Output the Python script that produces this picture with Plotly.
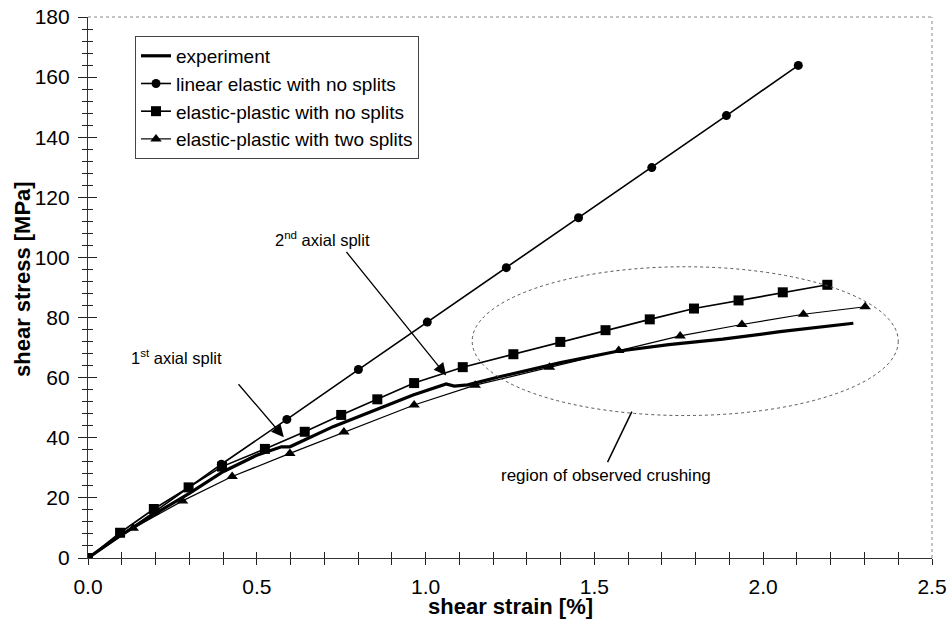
import plotly.graph_objects as go

# ---- data ----
exp_x = [0.0, 0.1, 0.2, 0.3, 0.4, 0.5, 0.573, 0.598, 0.726, 0.85, 0.963, 1.061, 1.085, 1.125, 1.219, 1.4, 1.564, 1.72, 1.88, 2.05, 2.267]
exp_y = [0.0, 7.8, 14.8, 21.5, 28.7, 34.2, 37.0, 37.0, 43.7, 49.3, 54.2, 57.9, 57.2, 57.6, 60.3, 65.0, 68.7, 71.0, 72.8, 75.3, 78.1]

lin_x = [0.0, 0.2, 0.395, 0.589, 0.801, 1.005, 1.239, 1.453, 1.670, 1.891, 2.104]
lin_y = [0.0, 15.6, 31.2, 46.1, 62.7, 78.5, 96.6, 113.2, 129.9, 147.2, 163.9]

epn_x = [0.0, 0.095, 0.195, 0.298, 0.397, 0.524, 0.642, 0.750, 0.857, 0.966, 1.110, 1.260, 1.399, 1.533, 1.664, 1.795, 1.927, 2.058, 2.190]
epn_y = [0.0, 8.4, 16.3, 23.5, 30.4, 36.3, 42.0, 47.6, 52.8, 58.2, 63.5, 67.8, 71.9, 75.8, 79.4, 83.0, 85.7, 88.4, 90.9]

eps_x = [0.0, 0.134, 0.280, 0.427, 0.598, 0.758, 0.966, 1.147, 1.367, 1.572, 1.754, 1.937, 2.119, 2.302]
eps_y = [0.0, 9.9, 19.0, 27.1, 34.8, 41.9, 50.9, 57.5, 63.5, 69.0, 73.9, 77.7, 81.1, 83.6]

series_names = ["experiment", "linear elastic with no splits",
                "elastic-plastic with no splits", "elastic-plastic with two splits"]

x_ticks = [0.0, 0.5, 1.0, 1.5, 2.0, 2.5]
y_ticks = [0, 20, 40, 60, 80, 100, 120, 140, 160, 180]

FONT = "Liberation Sans, Arial, sans-serif"

fig = go.Figure()
fig.add_trace(go.Scatter(x=exp_x, y=exp_y, name=series_names[0], mode="lines",
                         line=dict(color="black", width=3.2)))
fig.add_trace(go.Scatter(x=lin_x, y=lin_y, name=series_names[1], mode="lines+markers",
                         line=dict(color="black", width=1.6),
                         marker=dict(symbol="circle", size=9, color="black")))
fig.add_trace(go.Scatter(x=epn_x, y=epn_y, name=series_names[2], mode="lines+markers",
                         line=dict(color="black", width=1.6),
                         marker=dict(symbol="square", size=10, color="black")))
fig.add_trace(go.Scatter(x=eps_x, y=eps_y, name=series_names[3], mode="lines+markers",
                         line=dict(color="black", width=1.2),
                         marker=dict(symbol="triangle-up", size=10, color="black")))
# invisible trace on overlay axes (for inward half of crossing ticks)
fig.add_trace(go.Scatter(x=[x_ticks[0]], y=[y_ticks[0]], xaxis="x2", yaxis="y2",
                         mode="markers", marker=dict(opacity=0), showlegend=False,
                         hoverinfo="skip"))

axis_common = dict(showgrid=False, zeroline=False, automargin=False)
fig.update_layout(
    width=950, height=625,
    margin=dict(l=88, r=18, t=17, b=67, autoexpand=False),
    paper_bgcolor="white", plot_bgcolor="white",
    font=dict(family=FONT, color="black"),
    xaxis=dict(range=[0, 2.5], tickvals=x_ticks, ticktext=[f"{v:.1f}" for v in x_ticks],
               ticks="outside", ticklen=6, tickwidth=1, tickcolor="#222",
               minor=dict(ticks="outside", ticklen=6, dtick=0.1, tickcolor="#222", tickwidth=1),
               showline=True, linecolor="#333", linewidth=1.2, ticklabelstandoff=4,
               tickfont=dict(size=21, family=FONT), **axis_common),
    yaxis=dict(range=[0, 180], tickvals=y_ticks, ticks="outside", ticklen=9, tickwidth=1,
               tickcolor="#222",
               minor=dict(ticks="outside", ticklen=5, dtick=4, tickcolor="#222", tickwidth=1),
               showline=True, linecolor="#333", linewidth=1.2, ticklabelstandoff=4,
               tickfont=dict(size=21, family=FONT), **axis_common),
    xaxis2=dict(range=[0, 2.5], overlaying="x", anchor="y2", side="bottom",
                tickvals=x_ticks, ticks="inside", ticklen=6, tickcolor="#222",
                minor=dict(ticks="inside", ticklen=6, dtick=0.1, tickcolor="#222"),
                showticklabels=False, showline=False, **axis_common),
    yaxis2=dict(range=[0, 180], overlaying="y", anchor="x2", side="left",
                tickvals=y_ticks, ticks="inside", ticklen=9, tickcolor="#222",
                minor=dict(ticks="inside", ticklen=5, dtick=4, tickcolor="#222"),
                showticklabels=False, showline=False, **axis_common),
    legend=dict(x=0.0557, y=0.965, xanchor="left", yanchor="top",
                bgcolor="white", bordercolor="#444", borderwidth=1,
                font=dict(size=19, family=FONT), tracegroupgap=0, itemwidth=30),
    showlegend=True,
)

shapes = [
    # dotted top and right frame
    dict(type="line", xref="paper", yref="paper", x0=0, x1=1, y0=1, y1=1,
         line=dict(color="#888", width=1, dash="dot")),
    dict(type="line", xref="paper", yref="paper", x0=1, x1=1, y0=0, y1=1,
         line=dict(color="#888", width=1, dash="dot")),
    # ellipse: region of observed crushing
    dict(type="circle", xref="x", yref="y", x0=1.138, x1=2.400, y0=47.4, y1=96.9,
         line=dict(color="#555", width=1, dash="dot")),
    # leader line for ellipse label
    dict(type="line", xref="x", yref="y", x0=1.611, y0=48.7, x1=1.539, y1=31.9,
         line=dict(color="black", width=1.5)),
]
fig.update_layout(shapes=shapes)

annotations = [
    dict(x=0.263, y=67.0, xref="x", yref="y", text="1<sup>st</sup> axial split",
         showarrow=False, font=dict(size=16.5, family=FONT)),
    dict(x=0.694, y=106.1, xref="x", yref="y", text="2<sup>nd</sup> axial split",
         showarrow=False, font=dict(size=16.5, family=FONT)),
    dict(x=0.580, y=40.2, ax=0.442, ay=58.3, xref="x", yref="y", axref="x", ayref="y",
         text="", showarrow=True, arrowhead=2, arrowsize=1.9, arrowwidth=1.3, arrowcolor="black"),
    dict(x=1.061, y=60.7, ax=0.762, ay=102.3, xref="x", yref="y", axref="x", ayref="y",
         text="", showarrow=True, arrowhead=2, arrowsize=1.9, arrowwidth=1.3, arrowcolor="black"),
    dict(x=1.535, y=27.6, xref="x", yref="y", text="region of observed crushing",
         showarrow=False, font=dict(size=17, family=FONT)),
    dict(x=0.5, y=-0.0905, xref="paper", yref="paper", text="<b>shear strain [%]</b>",
         showarrow=False, yanchor="middle", font=dict(size=22, family=FONT)),
    dict(x=-0.0782, y=0.5157, xref="paper", yref="paper", text="<b>shear stress [MPa]</b>",
         showarrow=False, textangle=-90, xanchor="center", yanchor="middle",
         font=dict(size=22, family=FONT)),
]
fig.update_layout(annotations=annotations)

fig.write_html("out.html")
